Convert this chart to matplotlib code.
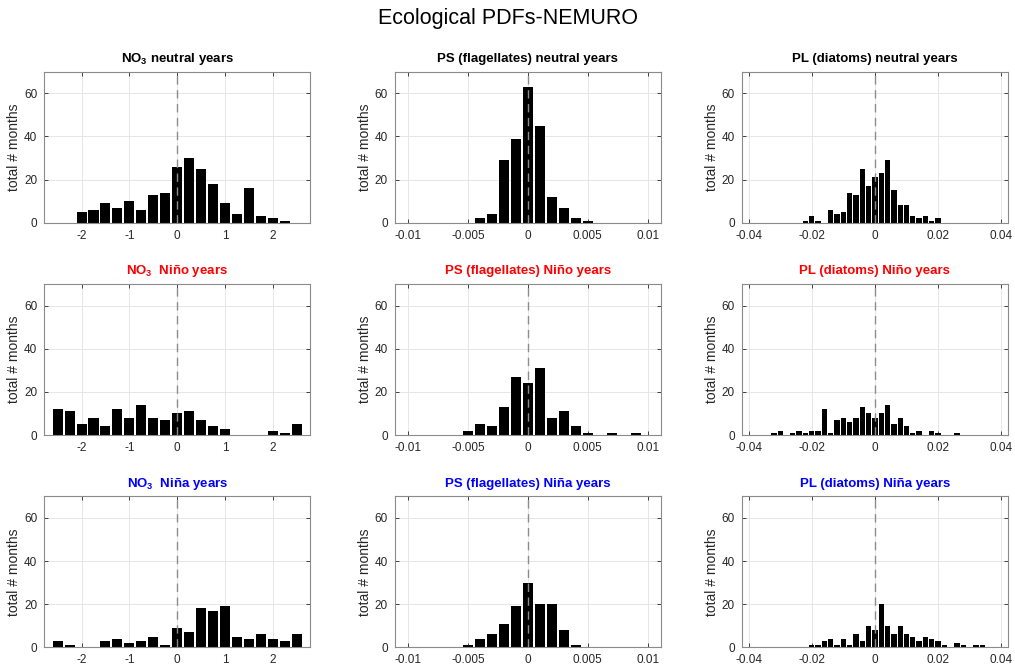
import numpy as np
import matplotlib
matplotlib.use("Agg")
import matplotlib.pyplot as plt
from matplotlib.ticker import FuncFormatter

plt.rcParams["font.family"] = ["Liberation Sans", "DejaVu Sans"]
plt.rcParams["mathtext.fontset"] = "custom"
plt.rcParams["mathtext.rm"] = "Liberation Sans"
plt.rcParams["mathtext.bf"] = "Liberation Sans:bold"
plt.rcParams["axes.unicode_minus"] = False

# bin centres of each histogram
no3_bins = np.round(np.arange(-2.5, 2.51, 0.25), 3)
ps_bins = np.round(np.arange(-0.005, 0.0091, 0.001), 4)
pl_bins = np.round(np.arange(-0.032, 0.0341, 0.002), 4)

# counts (total # months)
no3_neutral = [0, 0, 5, 6, 9, 7, 10, 6, 13, 14, 26, 30, 25, 18, 9, 4, 16, 3, 2, 1, 0]
no3_nino = [12, 11, 5, 8, 4, 12, 8, 14, 8, 7, 10, 11, 7, 4, 3, 0, 0, 0, 2, 1, 5]
no3_nina = [3, 1, 0, 0, 3, 4, 2, 3, 5, 1, 9, 7, 18, 17, 19, 5, 4, 6, 4, 3, 6]

ps_neutral = [0, 2, 4, 29, 39, 63, 45, 12, 7, 2, 1, 0, 0, 0, 0]
ps_nino = [2, 5, 4, 13, 27, 24, 31, 8, 11, 4, 1, 0, 1, 0, 1]
ps_nina = [1, 4, 6, 11, 19, 30, 20, 20, 8, 1, 0, 0, 0, 0, 0]

pl_neutral = [0, 0, 0, 0, 0, 1, 3, 1, 0, 6, 4, 5, 14, 13, 25, 17, 21, 23, 29, 15,
              8, 8, 3, 2, 3, 1, 2, 0, 0, 0, 0, 0, 0, 0]
pl_nino = [1, 2, 0, 1, 2, 1, 2, 2, 12, 1, 7, 8, 6, 8, 13, 10, 8, 10, 14, 5,
           8, 4, 1, 2, 0, 2, 1, 0, 0, 1, 0, 0, 0, 0]
pl_nina = [0, 0, 0, 0, 0, 0, 1, 1, 3, 4, 1, 4, 1, 6, 3, 10, 8, 20, 10, 6,
           10, 6, 5, 3, 5, 4, 3, 1, 0, 2, 1, 0, 1, 1]

row_names = ["neutral", "Niño", "Niña"]
row_colors = ["black", "red", "blue"]
var_names = [r"$\mathbf{NO_3}$", "PS (flagellates)", "PL (diatoms)"]
var_bins = [no3_bins, ps_bins, pl_bins]
var_width = [0.25, 0.001, 0.002]
var_xlim = [2.78, 0.0111, 0.0421]
var_xticks = [[-2, -1, 0, 1, 2],
              [-0.01, -0.005, 0, 0.005, 0.01],
              [-0.04, -0.02, 0, 0.02, 0.04]]
counts = [[no3_neutral, ps_neutral, pl_neutral],
          [no3_nino, ps_nino, pl_nino],
          [no3_nina, ps_nina, pl_nina]]

fig = plt.figure(figsize=(10.15, 6.66), dpi=100)
fig.suptitle("Ecological PDFs-NEMURO", fontsize=15.5, y=0.988)

lefts = [0.0436, 0.389, 0.731]
bottoms = [0.6656, 0.3468, 0.0281]
w, h = 0.262, 0.2267
fmt = FuncFormatter(lambda v, p: "%g" % v)

for r in range(3):
    for c in range(3):
        ax = fig.add_axes([lefts[c], bottoms[r], w, h])
        ax.bar(var_bins[c], counts[r][c], width=0.84 * var_width[c],
               color="black", zorder=2)
        ax.plot([0, 0], [0, 70], color="#8c8c8c", ls=(0, (6, 4)), lw=1.0, zorder=3)
        ax.set_xlim(-var_xlim[c], var_xlim[c])
        ax.set_ylim(0, 70)
        ax.set_xticks(var_xticks[c])
        ax.set_yticks([0, 20, 40, 60])
        ax.xaxis.set_major_formatter(fmt)
        ax.grid(True, color="#e6e6e6", lw=0.7, zorder=0)
        ax.tick_params(direction="in", length=3, width=0.6, top=True, right=True,
                       labelsize=8.5, colors="#262626", pad=5)
        for s in ax.spines.values():
            s.set_color("#8a8a8a")
            s.set_linewidth(0.8)
        ax.set_ylabel("total # months", fontsize=10, color="#262626", labelpad=2)
        if c == 0 and r > 0:
            title = var_names[c] + "  " + row_names[r] + " years"
        else:
            title = var_names[c] + " " + row_names[r] + " years"
        ax.set_title(title, fontsize=9.5, fontweight="bold", color=row_colors[r], pad=7)

fig.savefig("out.png", dpi=100)
